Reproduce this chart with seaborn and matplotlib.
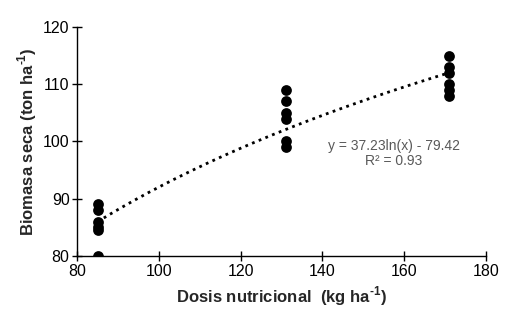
import numpy as np
import pandas as pd
import matplotlib.pyplot as plt
import seaborn as sns

# Datos
dosis = [85, 85, 85, 85, 85, 85,
         131, 131, 131, 131, 131, 131,
         171, 171, 171, 171, 171, 171]
biomasa = [89, 88, 86, 85, 84.5, 80,
           109, 107, 105, 104, 100, 99,
           115, 113, 112, 110, 109, 108]

# Tendencia logarítmica mostrada en el gráfico
coef_a = 37.23
coef_b = -79.42
r2 = 0.93

sns.set_style("white")
plt.rcParams['font.family'] = ['Liberation Sans', 'DejaVu Sans']
plt.rcParams['mathtext.fontset'] = 'custom'
plt.rcParams['mathtext.rm'] = 'Liberation Sans:bold'
plt.rcParams['mathtext.bf'] = 'Liberation Sans:bold'

df = pd.DataFrame({'dosis': dosis, 'biomasa': biomasa})
x_tend = np.linspace(min(dosis), max(dosis), 200)
y_tend = coef_a * np.log(x_tend) + coef_b

fig = plt.figure(figsize=(5.18, 3.14), dpi=100)
ax = fig.add_axes([0.149, 0.185, 0.789, 0.729])

sns.lineplot(x=x_tend, y=y_tend, ax=ax, color='black', linestyle=(0, (1, 1.6)), linewidth=2)
sns.scatterplot(data=df, x='dosis', y='biomasa', ax=ax, color='black', s=60,
                edgecolor='black', linewidth=0, zorder=3)

ax.set_xlim(80, 180)
ax.set_ylim(80, 120)
ax.set_xticks(range(80, 181, 20))
ax.set_yticks(range(80, 121, 10))
ax.tick_params(bottom=True, left=True, direction='inout', length=7, width=1,
               labelsize=11.5, color='black', labelcolor='black', pad=2)
for s in ['top', 'right']:
    ax.spines[s].set_visible(False)
for s in ['left', 'bottom']:
    ax.spines[s].set_color('black')
    ax.spines[s].set_linewidth(1)

ax.set_xlabel(r'Dosis nutricional  (kg ha$^{\text{-1}}$)', fontsize=12, fontweight='bold', labelpad=4)
ax.set_ylabel(r'Biomasa seca (ton ha$^{\text{-1}}$)', fontsize=12, fontweight='bold', labelpad=3)

ax.text(157.5, 100.4, f'y = {coef_a}ln(x) - {abs(coef_b)}\nR² = {r2}', ha='center', va='top',
        fontsize=10, color='#595959', linespacing=1.1)

fig.savefig('out.png', dpi=100)
